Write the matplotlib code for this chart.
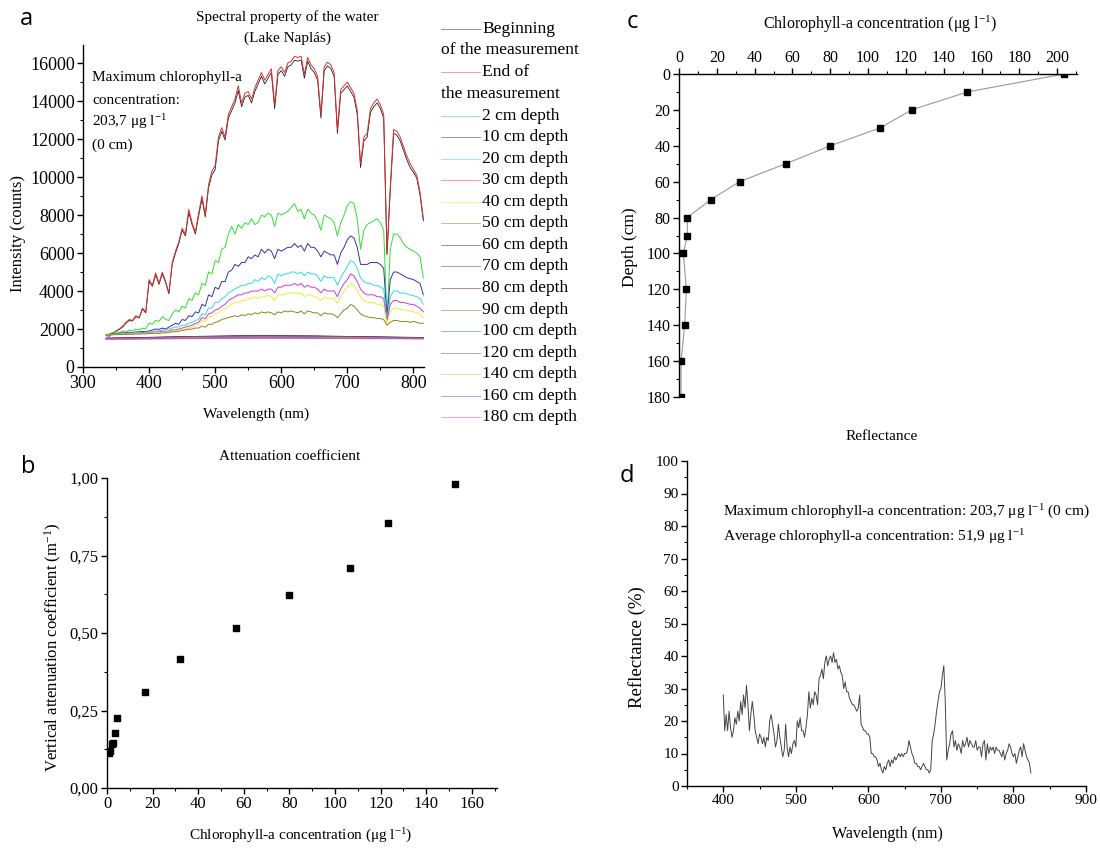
import numpy as np
import matplotlib
matplotlib.use("Agg")
import matplotlib.pyplot as plt
from matplotlib.ticker import MultipleLocator, FuncFormatter
from matplotlib.lines import Line2D

plt.rcParams['font.family'] = ['Liberation Serif', 'DejaVu Serif']
plt.rcParams['mathtext.fontset'] = 'custom'
plt.rcParams['mathtext.rm'] = 'Liberation Serif'
plt.rcParams['mathtext.it'] = 'Liberation Serif:italic'
plt.rcParams['axes.linewidth'] = 1.0

# ---------------- data: panel a (spectra, 5 nm grid 335..815) -------------
wl_a = np.arange(335, 816, 5)
end_meas = [1700,1650,1800,1900,2000,2150,2350,2500,2450,2700,
            2600,3100,2900,4600,4300,4950,4400,5000,4500,3900,
            5500,6100,6600,7300,7000,8300,7600,7100,8100,9000,
            8000,9600,10300,10600,12100,12600,12100,13300,13700,14100,
            14800,13900,14400,14500,14100,14700,15100,15500,15100,15400,
            15700,13800,15600,15800,15500,16000,16100,16350,16300,16350,
            15400,16300,15900,15700,15300,13300,15800,16050,15900,15500,
            12500,14600,14800,15000,14700,14400,13500,10700,12100,12300,
            13600,13900,14100,13800,13300,6000,9500,12500,12400,12100,
            11600,11100,10700,10400,10100,9200,7800]
begin_meas = [1650,1620,1780,1870,1980,2100,2300,2450,2420,2650,
              2580,3050,2850,4500,4250,4850,4350,4900,4450,3850,
              5400,6000,6500,7200,6900,8150,7500,7000,7950,8850,
              7900,9450,10100,10400,11900,12400,11950,13100,13500,13900,
              14550,13700,14200,14300,13900,14500,14900,15300,14900,15200,
              15500,13600,15400,15600,15300,15800,15900,16150,16100,16150,
              15200,16100,15700,15500,15100,13100,15600,15850,15700,15300,
              12300,14400,14600,14800,14500,14200,13300,10500,11900,12100,
              13400,13700,13900,13600,13100,5900,9300,12300,12200,11900,
              11400,10900,10500,10250,9950,9050,7700]
d2 = [1700,1750,1800,1850,1800,1900,1850,1950,1900,2000,
      1950,2050,2000,2300,2250,2450,2400,2650,2500,2450,
      2800,3000,2900,3200,3100,3600,3500,3900,3800,4400,
      4300,5000,4900,5600,5500,6200,6300,7000,7400,7000,
      7500,7300,7600,7500,7800,7500,7600,8000,7900,8100,
      8000,7400,8100,8000,8100,8200,8400,8600,8200,8300,
      7800,8300,8100,8000,7700,7200,8000,7900,7800,7600,
      6900,7600,8000,8500,8700,8600,7800,6200,7200,7500,
      7600,7700,7800,7600,7200,2500,6200,7000,7000,6800,
      6500,6300,6200,6100,6000,5800,4700]
d10 = [1700,1720,1750,1760,1780,1800,1800,1830,1820,1850,
       1850,1870,1850,1900,1950,2000,1980,2050,2000,2100,
       2200,2300,2250,2500,2450,2700,2650,2900,2850,3300,
       3200,3800,3700,4200,4100,4500,4500,5000,5100,5400,
       5300,5500,5500,5800,5700,5900,5800,6200,6000,6200,
       6100,5700,6200,6100,6200,6300,6300,6500,6300,6400,
       6100,6500,6300,6300,6100,5800,6100,6000,5900,5900,
       5400,6000,6300,6700,6900,6800,6300,5400,5400,5400,
       5500,5500,5500,5400,5200,2600,4600,5000,5000,4900,
       4800,4700,4650,4600,4500,4400,3800]
d20 = [1700,1700,1720,1740,1750,1760,1770,1780,1790,1800,
       1800,1820,1800,1850,1870,1900,1900,1950,1950,2000,
       2050,2100,2100,2200,2200,2300,2350,2450,2500,2800,
       2750,3100,3100,3400,3400,3600,3700,3900,4000,4100,
       4200,4300,4300,4400,4400,4600,4500,4700,4600,4800,
       4700,4400,4900,4800,4900,4900,5000,5000,4900,5000,
       4800,5000,4900,4900,4800,4500,4800,4700,4700,4700,
       4300,4700,5000,5300,5600,5500,5200,4700,4500,4400,
       4400,4300,4300,4200,4100,2500,3700,4000,4000,3900,
       3900,3850,3800,3750,3700,3600,3300]
d30 = [1700,1700,1710,1720,1730,1740,1750,1760,1760,1770,
       1780,1790,1780,1800,1820,1840,1850,1880,1880,1900,
       1950,1950,2000,2050,2100,2150,2200,2300,2350,2600,
       2550,2800,2850,3000,3050,3200,3300,3500,3600,3700,
       3800,3800,3900,3900,4000,4000,4000,4100,4000,4100,
       4100,3900,4200,4200,4300,4300,4300,4400,4300,4400,
       4200,4300,4200,4200,4100,3900,4100,4000,4000,4000,
       3700,4100,4400,4600,4900,4800,4500,4100,3900,3800,
       3800,3800,3700,3700,3600,2400,3300,3500,3500,3400,
       3400,3350,3300,3300,3200,3100,2900]
d40 = [1700,1690,1700,1710,1720,1730,1730,1740,1740,1750,
       1750,1760,1760,1780,1790,1800,1800,1830,1830,1850,
       1880,1900,1930,1980,2000,2050,2100,2200,2250,2450,
       2400,2650,2650,2800,2850,3000,3050,3200,3300,3400,
       3400,3500,3500,3600,3600,3700,3600,3700,3700,3800,
       3700,3500,3800,3800,3800,3900,3900,3900,3850,3900,
       3700,3800,3800,3700,3650,3500,3700,3600,3600,3600,
       3350,3700,4000,4200,4400,4300,4000,3700,3500,3400,
       3400,3400,3300,3300,3200,2300,2900,3100,3100,3050,
       3000,3000,2950,2900,2850,2800,2600]
d50 = [1700,1680,1700,1700,1710,1720,1710,1730,1720,1740,
       1730,1750,1740,1760,1770,1780,1760,1800,1790,1820,
       1850,1860,1880,1920,1950,1980,2000,2050,2050,2150,
       2100,2250,2250,2350,2400,2500,2550,2600,2650,2700,
       2650,2750,2700,2800,2750,2850,2800,2900,2850,2900,
       2850,2750,2900,2850,2950,2900,2950,2900,2850,2950,
       2800,2950,2900,2850,2850,2700,2850,2800,2800,2750,
       2600,2800,3000,3100,3300,3200,3000,2800,2700,2650,
       2600,2600,2550,2550,2500,2200,2350,2450,2450,2400,
       2400,2400,2350,2400,2350,2300,2300]
# deep measurements (nearly flat), coarser grid
wl_deep = [335, 375, 415, 455, 495, 535, 575, 615, 655, 695, 735, 775, 815]
d60 = [1520,1540,1570,1600,1620,1640,1650,1640,1630,1610,1590,1570,1550]
d70 = [1510,1530,1560,1590,1610,1630,1640,1630,1620,1600,1580,1560,1540]
d80 = [1500,1520,1550,1580,1600,1620,1630,1620,1610,1590,1570,1550,1530]
d90 = [1500,1510,1540,1570,1590,1610,1620,1610,1600,1580,1560,1540,1520]
d100 = [1490,1500,1530,1560,1580,1600,1610,1600,1590,1570,1550,1530,1510]
d120 = [1490,1500,1520,1550,1570,1590,1600,1590,1580,1560,1540,1520,1500]
d140 = [1480,1490,1510,1540,1560,1570,1580,1570,1560,1550,1530,1510,1500]
d160 = [1480,1480,1500,1520,1530,1540,1540,1540,1530,1520,1510,1500,1490]
d180 = [1470,1470,1480,1490,1500,1510,1510,1510,1500,1500,1490,1490,1480]

labels_a = ["2 cm depth", "10 cm depth", "20 cm depth", "30 cm depth", "40 cm depth",
            "50 cm depth", "60 cm depth", "70 cm depth", "80 cm depth", "90 cm depth",
            "100 cm depth", "120 cm depth", "140 cm depth", "160 cm depth", "180 cm depth"]
colors_a = ["#33dd33", "#3333aa", "#33dddd", "#dd33dd", "#eeee33", "#888822",
            "#222288", "#882288", "#882222", "#668833", "#338888", "#5555cc",
            "#ddaa55", "#9944cc", "#dd55aa"]

# ---------------- data: panel b ----------------
chl_b = [152.5, 123.0, 106.5, 80.0, 56.5, 32.0, 16.5, 4.2, 3.7, 2.8, 2.3, 1.0, 1.5]
kd_b = [0.981, 0.855, 0.711, 0.623, 0.515, 0.416, 0.311, 0.225, 0.177, 0.145, 0.142, 0.113, 0.118]

# ---------------- data: panel c ----------------
depth_c = [0, 10, 20, 30, 40, 50, 60, 70, 80, 90, 100, 120, 140, 160, 180]
chl_c = [203.7, 152.5, 123.0, 106.5, 80.0, 56.5, 32.0, 16.8, 4.4, 4.4, 2.3, 3.9, 3.0, 1.1, 1.1]

# ---------------- data: panel d (2 nm grid 400..824) ----------------
wl_d = np.arange(400, 825, 2)
refl_d = [28,17,22,17,23,18,15,17,21,19,
          23,20,26,22,28,24,31,25,17,22,
          26,22,17,15,13,16,15,13,15,12,
          15,14,20,22,19,16,12,14,19,15,
          12,9,11,19,12,9,12,10,13,14,
          12,20,18,21,17,17,15,18,22,29,
          24,27,25,29,28,25,33,34,36,33,
          38,40,37,39,40,38,41,38,39,36,
          37,35,34,30,32,29,29,27,26,25,
          25,24,23,24,28,19,18,17,17,16,
          16,15,10,10,9,9,8,6,7,5,
          4,6,5,7,8,6,8,7,9,8,
          9,10,9,10,9,10,10,11,14,12,
          10,9,7,7,6,6,5,6,7,6,
          5,5,4,5,14,16,19,23,26,29,
          30,34,37,26,8,11,13,16,17,12,
          14,11,13,12,10,14,12,13,15,12,
          14,13,12,12,14,11,12,12,9,13,
          14,8,13,10,12,11,12,10,12,11,
          11,10,9,11,8,10,11,13,12,10,
          9,10,7,9,11,12,9,13,11,9,
          8,7,4]

# ---------------- figure ----------------
W, H = 1100, 849
fig = plt.figure(figsize=(W / 100, H / 100), dpi=100)

def fx(x):
    return x / W

def fy(y):
    return 1 - y / H

def axes_px(l, t, r, b):
    return fig.add_axes([fx(l), fy(b), fx(r) - fx(l), fy(t) - fy(b)])

SANS = ['Open Sans', 'DejaVu Sans']

def style(ax, keep, tick_fs):
    for s in ['left', 'right', 'top', 'bottom']:
        ax.spines[s].set_visible(s in keep)
    ax.tick_params(which='major', length=4, width=1.0, direction='out', labelsize=tick_fs, pad=2)
    ax.tick_params(which='minor', length=2.5, width=0.8, direction='out')
    ax.patch.set_alpha(0)

# ---- panel a ----
axa = axes_px(83, 45, 424, 367)
style(axa, ['left', 'bottom'], 13)
axa.plot(wl_a, begin_meas, color='#222222', lw=0.6)
axa.plot(wl_a, end_meas, color='#d83030', lw=0.7)
series_a = [d2, d10, d20, d30, d40, d50]
for vals, c in zip(series_a, colors_a[:6]):
    axa.plot(wl_a, vals, color=c, lw=0.7)
deep_series = [d60, d70, d80, d90, d100, d120, d140, d160, d180]
for vals, c in zip(deep_series, colors_a[6:]):
    axa.plot(wl_deep, vals, color=c, lw=0.7)
axa.set_xlim(300, 816)
axa.set_ylim(0, 16950)
axa.xaxis.set_major_locator(MultipleLocator(100))
axa.xaxis.set_minor_locator(MultipleLocator(50))
axa.yaxis.set_major_locator(MultipleLocator(2000))
axa.yaxis.set_minor_locator(MultipleLocator(1000))
for txt, y in [("Maximum chlorophyll-a", 78), ("concentration:", 100),
               (r"203,7 μg l$^{-1}$", 122), ("(0 cm)", 145)]:
    fig.text(fx(92), fy(y), txt, fontsize=11, va='center')

fig.text(fx(287), fy(17), "Spectral property of the water", ha='center', va='center', fontsize=11)
fig.text(fx(287), fy(38), "(Lake Naplás)", ha='center', va='center', fontsize=11)
fig.text(fx(256), fy(414), "Wavelength (nm)", ha='center', va='center', fontsize=11)
fig.text(fx(18), fy(233), "Intensity (counts)", ha='center', va='center', rotation=90, fontsize=12)

# manual legend for panel a
LFS = 12.6
leg_items = [("Beginning", "of the measurement", 'black', 29),
             ("End of", "the measurement", '#dd2222', 72)]
for first, second, c, y in leg_items:
    fig.add_artist(Line2D([fx(441), fx(480)], [fy(y), fy(y)], color=c, lw=0.6, alpha=0.5))
    fig.text(fx(482), fy(y), first, va='center', fontsize=LFS)
    fig.text(fx(441), fy(y + 21.5), second, va='center', fontsize=LFS)
for i, (lab, c) in enumerate(zip(labels_a, colors_a)):
    y = 115.5 + i * 21.57
    fig.add_artist(Line2D([fx(441), fx(480)], [fy(y), fy(y)], color=c, lw=0.6, alpha=0.6))
    fig.text(fx(482), fy(y), lab, va='center', fontsize=LFS)

# ---- panel b ----
axb = axes_px(107, 478, 497, 788)
style(axb, ['left', 'bottom'], 12)
axb.scatter(chl_b, kd_b, marker='s', s=18, color='black', zorder=3)
axb.set_xlim(0, 171)
axb.set_ylim(0, 1.0)
axb.xaxis.set_major_locator(MultipleLocator(20))
axb.xaxis.set_minor_locator(MultipleLocator(10))
axb.yaxis.set_major_locator(MultipleLocator(0.25))
axb.yaxis.set_minor_locator(MultipleLocator(0.125))
axb.yaxis.set_major_formatter(FuncFormatter(lambda v, p: f"{v:.2f}".replace('.', ',')))
fig.text(fx(290), fy(456), "Attenuation coefficient", ha='center', va='center', fontsize=11)
fig.text(fx(301), fy(836), r"Chlorophyll-a concentration (μg l$^{-1}$)", ha='center', va='center', fontsize=11)
fig.text(fx(53), fy(647), r"Vertical attenuation coefficient (m$^{-1}$)", ha='center', va='center',
         rotation=90, fontsize=12)

# ---- panel c ----
axc = axes_px(679, 74, 1077, 397)
style(axc, ['left', 'top'], 11.5)
axc.plot(chl_c, depth_c, color='#999999', lw=0.8, marker='s', markersize=4.2,
         markerfacecolor='black', markeredgecolor='black')
axc.set_xlim(0, 210.5)
axc.set_ylim(180, 0)
axc.xaxis.tick_top()
axc.xaxis.set_major_locator(MultipleLocator(20))
axc.xaxis.set_minor_locator(MultipleLocator(10))
axc.yaxis.set_major_locator(MultipleLocator(20))
axc.yaxis.set_minor_locator(MultipleLocator(10))
axc.tick_params(axis='x', which='both', top=True, bottom=False)
fig.text(fx(880), fy(24), r"Chlorophyll-a concentration (μg l$^{-1}$)", ha='center', va='center', fontsize=11.5)
fig.text(fx(630), fy(247), "Depth (cm)", ha='center', va='center', rotation=90, fontsize=12.5)

# ---- panel d ----
axd = axes_px(687, 461, 1086, 786)
style(axd, ['left', 'bottom'], 11)
axd.plot(wl_d, refl_d, color='#444444', lw=0.7)
axd.set_xlim(350, 900)
axd.set_ylim(0, 100)
axd.xaxis.set_major_locator(MultipleLocator(100))
axd.xaxis.set_minor_locator(MultipleLocator(50))
axd.yaxis.set_major_locator(MultipleLocator(10))
axd.yaxis.set_minor_locator(MultipleLocator(5))
fig.text(fx(723), fy(512), r"Maximum chlorophyll-a concentration: 203,7 μg l$^{-1}$ (0 cm)", va='center', fontsize=11.1)
fig.text(fx(723), fy(537), r"Average chlorophyll-a concentration: 51,9 μg l$^{-1}$", va='center', fontsize=11.1)
fig.text(fx(882), fy(437), "Reflectance", ha='center', va='center', fontsize=11)
fig.text(fx(887), fy(834), "Wavelength (nm)", ha='center', va='center', fontsize=11.5)
fig.text(fx(637), fy(647), "Reflectance (%)", ha='center', va='center', rotation=90, fontsize=13.5)

# panel letters
for letter, x, y in [("a", 26, 19), ("b", 28, 467), ("c", 632, 22), ("d", 627, 476)]:
    fig.text(fx(x), fy(y), letter, ha='center', va='center', fontsize=17, family=SANS)

fig.savefig("out.png", dpi=100)
